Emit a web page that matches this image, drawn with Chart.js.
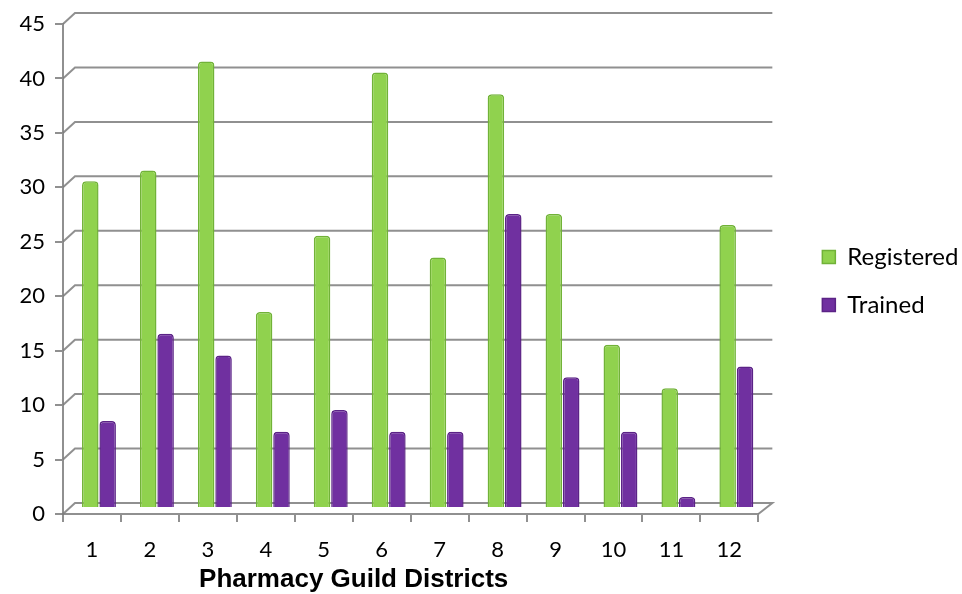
<!DOCTYPE html>
<html>
<head>
<meta charset="utf-8">
<title>Pharmacy Guild Districts</title>
<script src="https://cdn.jsdelivr.net/npm/chart.js@4.4.1/dist/chart.umd.min.js"></script>
<style>
html, body { margin: 0; padding: 0; background: #fff; }
</style>
</head>
<body>
<canvas id="barChart" width="962" height="594"></canvas>
<script>
// districts along the bottom, counts per district
const districts = ['1', '2', '3', '4', '5', '6', '7', '8', '9', '10', '11', '12'];
const registered = [30, 31, 41, 18, 25, 40, 23, 38, 27, 15, 11, 26];
const trained = [8, 16, 14, 7, 9, 7, 7, 27, 12, 7, 1, 13];
const yTicks = [0, 5, 10, 15, 20, 25, 30, 35, 40, 45];

const gridColor = 'rgba(125, 125, 125, 0.85)';

// fake 3d: back wall lines sit up/right of the axis, bars sit half way in
const wall3d = {
    id: 'wall3d',
    afterLayout(chart) {
        // legend sits a little above the middle
        chart.legend.top -= 28;
        chart.legend.bottom -= 28;
    },
    beforeDatasetsDraw(chart) {
        const ctx = chart.ctx;
        const area = chart.chartArea;
        const y = chart.scales.y;
        ctx.save();
        ctx.strokeStyle = gridColor;
        ctx.lineWidth = 2;
        for (let i = 0; i < yTicks.length; i++) {
            const py = y.getPixelForValue(yTicks[i]);
            ctx.beginPath();
            ctx.moveTo(area.left, py);
            ctx.lineTo(area.left + 12, py - 11);
            ctx.lineTo(area.right + 14, py - 11);
            if (yTicks[i] == 0) {
                ctx.lineTo(area.right, py);
            }
            ctx.stroke();
        }
        ctx.restore();
        ctx.save();
        ctx.translate(7, -6);
    },
    afterDatasetsDraw(chart) {
        chart.ctx.restore();
    },
    afterDraw(chart) {
        // axis title sits a bit left of the axis centre
        const ctx = chart.ctx;
        const area = chart.chartArea;
        ctx.save();
        ctx.font = 'bold 26px "Liberation Sans"';
        ctx.fillStyle = '#000';
        ctx.textAlign = 'center';
        ctx.textBaseline = 'middle';
        ctx.fillText('Pharmacy Guild Districts', area.left + (area.right - area.left) * 0.418, 580);
        ctx.restore();
    }
};

Chart.defaults.font.family = 'Lato';
Chart.defaults.color = '#000';

let ctx = document.getElementById('barChart').getContext('2d');
let myChart = new Chart(ctx, {
    type: 'bar',
    data: {
        labels: districts,
        datasets: [{
            label: 'Registered',
            data: registered,
            backgroundColor: '#90d24e',
            borderColor: '#71b238',
            borderWidth: 1.5,
            borderRadius: {topLeft: 4, topRight: 4},
            borderSkipped: 'bottom',
            categoryPercentage: 0.6,
            barPercentage: 0.95
        }, {
            label: 'Trained',
            data: trained,
            backgroundColor: '#7030a0',
            borderColor: '#5b2386',
            borderWidth: 1.5,
            borderRadius: {topLeft: 4, topRight: 4},
            borderSkipped: 'bottom',
            categoryPercentage: 0.6,
            barPercentage: 0.95
        }]
    },
    options: {
        responsive: false,
        animation: false,
        layout: {
            padding: {left: 0, top: 24, right: 4, bottom: 0}
        },
        plugins: {
            legend: {
                position: 'right',
                labels: {
                    boxWidth: 13,
                    boxHeight: 13,
                    padding: 24,
                    font: {size: 24}
                }
            },
            tooltip: {enabled: false}
        },
        scales: {
            x: {
                grid: {
                    drawOnChartArea: false,
                    tickLength: 8,
                    color: gridColor,
                    lineWidth: 2
                },
                border: {color: gridColor, width: 2},
                ticks: {
                    font: {size: 22},
                    padding: 15,
                    maxRotation: 0
                },
                afterFit(scale) {
                    scale.height = 80;
                }
            },
            y: {
                min: 0,
                max: 45,
                grid: {
                    drawOnChartArea: false,
                    tickLength: 8,
                    color: gridColor,
                    lineWidth: 2
                },
                border: {color: gridColor, width: 2},
                ticks: {
                    stepSize: 5,
                    font: {size: 22},
                    padding: 10
                },
                afterFit(scale) {
                    scale.width = 63;
                }
            },
            y2: {
                position: 'right',
                grid: {display: false},
                border: {display: false},
                ticks: {display: false},
                afterFit(scale) {
                    scale.width = 40;
                }
            }
        }
    },
    plugins: [wall3d]
});
</script>
</body>
</html>
